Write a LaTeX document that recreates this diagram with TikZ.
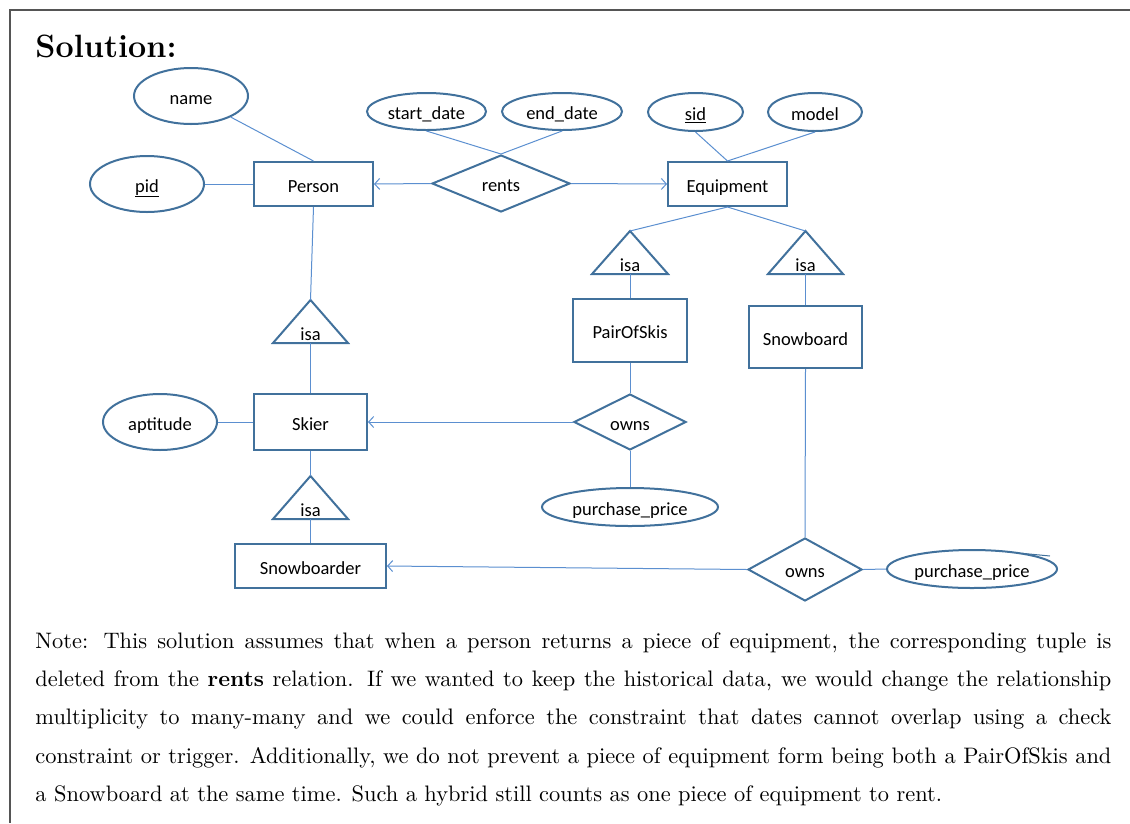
\documentclass[tikz,border=0pt]{standalone}
\usepackage{fontspec}
\newfontfamily\carl{Carlito}
\usetikzlibrary{shapes.geometric,arrows.meta}
\definecolor{shapeblue}{HTML}{41719C}
\definecolor{linkblue}{HTML}{5B8FD0}
\definecolor{framegray}{HTML}{555555}
\newcommand{\lowtext}[1]{\raisebox{-8pt}[0pt][0pt]{#1}}
\tikzset{
  dfont/.style={font=\carl\fontsize{18.5}{22}\selectfont},
  boxtext/.style={text height=21pt, text depth=4.6pt},
  ent/.style={rectangle, draw=shapeblue, line width=2pt, fill=white, inner sep=0pt, dfont, boxtext},
  attr/.style={ellipse, draw=shapeblue, line width=2pt, fill=white, inner sep=0pt, dfont, boxtext},
  rel/.style={diamond, draw=shapeblue, line width=2pt, fill=white, inner sep=0pt, dfont},
  isatri/.style={draw=shapeblue, line width=2pt, line join=miter},
  lbl/.style={inner sep=0pt, dfont, anchor=base},
  link/.style={draw=linkblue, line width=1pt},
  arr/.style={link, -{Straight Barb[length=5pt,width=11pt,line width=1pt]}},
}
\begin{document}
\begin{tikzpicture}[x=1pt,y=-1pt]
\useasboundingbox (0,0) rectangle (1130,823);
% frame
\draw[framegray, line width=1.5pt] (1130,10) -- (10,10) -- (10,823);

% title
\node[anchor=base west, inner sep=0pt, scale=2.24] (title) at (35,57)
  {\fontsize{14.4}{17}\selectfont\bfseries Solution:};

% entities
\node[ent, minimum width=119pt, minimum height=44pt] (person) at (313.5,184) {Person};
\node[ent, minimum width=119pt, minimum height=44pt] (equip) at (727.5,184) {Equipment};
\node[ent, minimum width=114pt, minimum height=63pt] (skis) at (630,330.5) {PairOfSkis};
\node[ent, minimum width=113pt, minimum height=62pt] (board) at (805.5,337) {Snowboard};
\node[ent, minimum width=113pt, minimum height=56pt] (skier) at (310.5,422) {Skier};
\node[ent, minimum width=151pt, minimum height=44pt] (boarder) at (310.5,566) {Snowboarder};

% attributes
\node[attr, minimum width=114pt, minimum height=56pt] (name) at (191,96) {name};
\node[attr, minimum width=114pt, minimum height=56pt] (pid) at (147,184) {\underline{pid}};
\node[attr, minimum width=119pt, minimum height=37pt] (start) at (426.5,111.5) {start\_date};
\node[attr, minimum width=120pt, minimum height=37pt] (end) at (562,111.5) {end\_date};
\node[attr, minimum width=95pt, minimum height=38pt] (sid) at (695.5,112) {\underline{sid}};
\node[attr, minimum width=94pt, minimum height=38pt] (model) at (815,112) {model};
\node[attr, minimum width=114pt, minimum height=56pt] (apt) at (160,422) {aptitude};
\node[attr, minimum width=176pt, minimum height=38pt] (pp1) at (630,507) {purchase\_price};
\node[attr, minimum width=170pt, minimum height=38pt] (pp2) at (972,569) {purchase\_price};
\draw[shapeblue, line width=1pt] (1022,553.3) -- (1050,556);

% relationships
\node[rel, minimum width=138pt, minimum height=57pt] (rents) at (501,183.5) {\lowtext{rents}};
\node[rel, minimum width=112pt, minimum height=56pt] (owns1) at (630,422) {\lowtext{owns}};
\node[rel, minimum width=114pt, minimum height=63pt] (owns2) at (805,569.5) {\lowtext{owns}};

% isa triangles
\draw[isatri] (630,231) coordinate (isaAtop) -- (668,274) -- (592,274) -- cycle;
\coordinate (isaAbot) at (630,274);
\node[lbl] (isaA) at (630,271) {isa};
\draw[isatri] (805.5,231) coordinate (isaBtop) -- (843,274) -- (768,274) -- cycle;
\coordinate (isaBbot) at (805.5,274);
\node[lbl] (isaB) at (805.5,271) {isa};
\draw[isatri] (310.5,300) coordinate (isaCtop) -- (348,343) -- (273,343) -- cycle;
\coordinate (isaCbot) at (310.5,343);
\node[lbl] (isaC) at (310.5,340) {isa};
\draw[isatri] (310.5,476) coordinate (isaDtop) -- (348,519) -- (273,519) -- cycle;
\coordinate (isaDbot) at (310.5,519);
\node[lbl] (isaD) at (310.5,516) {isa};

% connectors
\draw[link] (name) -- (person.north);
\draw[link] (pid.east) -- (person.west);
\draw[link] (start.south) -- (rents.north);
\draw[link] (end.south) -- (rents.north);
\draw[arr] (rents.west) -- (person.east);
\draw[arr] (rents.east) -- (equip.west);
\draw[link] (sid.south) -- (equip.north);
\draw[link] (model.south) -- (equip.north);
\draw[link] (equip.south) -- (isaAtop);
\draw[link] (equip.south) -- (isaBtop);
\draw[link] (isaAbot) -- (skis.north);
\draw[link] (isaBbot) -- (board.north);
\draw[link] (person.south) -- (isaCtop);
\draw[link] (isaCbot) -- (skier.north);
\draw[link] (apt.east) -- (skier.west);
\draw[link] (skier.south) -- (isaDtop);
\draw[link] (isaDbot) -- (boarder.north);
\draw[link] (skis.south) -- (owns1.north);
\draw[arr] (owns1.west) -- (skier.east);
\draw[link] (owns1.south) -- (pp1.north);
\draw[link] (board.south) -- (owns2.north);
\draw[arr] (owns2.west) -- (boarder.east);
\draw[link] (owns2.east) -- (pp2.west);

% note
\node[anchor=base west, inner sep=0pt, scale=2.24, text width=480.36pt, align=justify,
      font={\fontsize{10}{17.14}\selectfont}] (note) at (35,648)
  {\tolerance=10000\hbadness=10000
  Note: This solution assumes that when a person returns a piece of equipment, the corresponding tuple is\linebreak
  deleted from the \textbf{rents} relation. If we wanted to keep the historical data, we would change the relationship\linebreak
  multiplicity to many-many and we could enforce the constraint that dates cannot overlap using a check\linebreak
  constraint or trigger. Additionally, we do not prevent a piece of equipment form being both a PairOfSkis and\linebreak
  a Snowboard at the same time. Such a hybrid still counts as one piece of equipment to rent.\par};
\end{tikzpicture}
\end{document}
